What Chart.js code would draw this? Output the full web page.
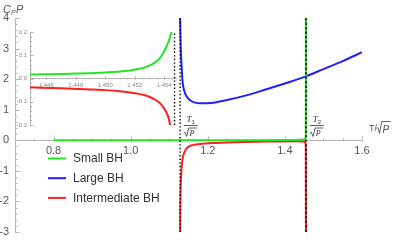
<!DOCTYPE html>
<html><head><meta charset="utf-8">
<script src="https://cdn.jsdelivr.net/npm/chart.js@4.4.0/dist/chart.umd.min.js"></script>
<style>
html,body{margin:0;padding:0;background:#fff;}
#wrap{position:relative;width:399px;height:240px;overflow:hidden;}
#main{position:absolute;left:0;top:0;}
#inset{position:absolute;left:16px;top:26px;}
</style></head><body>
<div id="wrap"><canvas id="main" width="399" height="240"></canvas><canvas id="inset" width="162" height="104"></canvas></div>
<script>
// ---------- data ----------
const T1 = 1.1283;
const T2 = 1.4547;

const xTicks = [0.8, 1.0, 1.2, 1.4, 1.6];
const yTicks = [-3, -2, -1, 0, 1, 2, 3, 4];

const smallX = [0.80, 1.00, 1.20, 1.35, 1.42, 1.45, 1.4530, 1.4540, 1.4544, 1.4546];
const smallY = [0.00, 0.00, 0.00, 0.003, 0.01, 0.026, 0.06, 0.11, 0.20, 4.0];

const largeX = [1.1283, 1.1300, 1.1322, 1.1340, 1.1364, 1.1400, 1.1452, 1.1550, 1.1650, 1.1800, 1.2000, 1.2500, 1.3000, 1.3500, 1.4000, 1.4547, 1.5000, 1.5500, 1.6000];
const largeY = [4.00, 3.00, 2.41, 2.00, 1.75, 1.58, 1.43, 1.30, 1.24, 1.21, 1.21, 1.32, 1.47, 1.66, 1.86, 2.09, 2.33, 2.59, 2.88];

const interX = [1.1284, 1.1288, 1.1296, 1.1310, 1.1330, 1.1356, 1.1400, 1.1446, 1.1550, 1.1800, 1.2200, 1.3000, 1.3700, 1.4300, 1.4500, 1.4538, 1.4543, 1.4546];
const interY = [-3.00, -2.20, -1.60, -1.10, -0.78, -0.54, -0.38, -0.27, -0.18, -0.12, -0.085, -0.055, -0.042, -0.035, -0.04, -0.10, -0.40, -3.00];

// inset
const insetXTicks = [1.446, 1.448, 1.450, 1.452, 1.454];
const insetYTicks = [-0.2, -0.1, 0.0, 0.1, 0.2];
const insetSmallX = [1.4449, 1.4460, 1.4470, 1.4480, 1.4490, 1.4500, 1.4510, 1.4520, 1.4527, 1.4532, 1.4536, 1.4539, 1.4541, 1.4543, 1.4545];
const insetSmallY = [0.017, 0.018, 0.019, 0.021, 0.023, 0.026, 0.030, 0.038, 0.048, 0.062, 0.080, 0.105, 0.130, 0.160, 0.200];
const insetInterX = [1.4449, 1.4470, 1.4490, 1.4500, 1.4510, 1.4520, 1.4527, 1.4532, 1.4536, 1.4539, 1.4541, 1.4543, 1.4544];
const insetInterY = [-0.038, -0.042, -0.047, -0.050, -0.055, -0.063, -0.072, -0.085, -0.100, -0.120, -0.140, -0.170, -0.200];

// ---------- styling ----------
const GREEN = '#22e622', BLUE = '#1f1fff', RED = '#ff1f1f';
const AX = '#b4b4b4', TXT = '#555';
const pts = (xs, ys) => xs.map((x, i) => ({x, y: ys[i]}));
const range = (a, b, s) => { const r = []; for (let v = a; v <= b + s * 1e-6; v += s) r.push(+v.toFixed(6)); return r; };

const axisDecor = {
  id: 'axisDecor',
  beforeDatasetsDraw(chart, args, o) {
    const {ctx, scales: {x, y}} = chart;
    ctx.save(); ctx.strokeStyle = o.color; ctx.lineWidth = 1;
    const y0 = Math.round(y.getPixelForValue(0)) + 0.5;
    const xl = chart.chartArea.left + 0.5;
    const draw = (vals, len, horiz) => vals.forEach(v => {
      ctx.beginPath();
      if (horiz) { const p = Math.round(x.getPixelForValue(v)) + 0.5; ctx.moveTo(p, y0); ctx.lineTo(p, y0 - len); }
      else { const p = Math.round(y.getPixelForValue(v)) + 0.5; ctx.moveTo(xl, p); ctx.lineTo(xl + len, p); }
      ctx.stroke();
    });
    draw(o.xMinor, o.minorLen, true); draw(o.xMajor, o.majorLen, true);
    draw(o.yMinor, o.minorLen, false); draw(o.yMajor, o.majorLen, false);
    ctx.restore();
  }
};

function radical(ctx, x, yTop, w, h) {
  ctx.beginPath();
  ctx.moveTo(x, yTop + h * 0.6);
  ctx.lineTo(x + 1.3, yTop + h * 0.5);
  ctx.lineTo(x + 3, yTop + h);
  ctx.lineTo(x + 5.2, yTop);
  ctx.lineTo(x + 5.2 + w, yTop);
  ctx.stroke();
}

function fraction(ctx, cx, sub) {
  ctx.fillStyle = '#333'; ctx.strokeStyle = '#333';
  ctx.textBaseline = 'alphabetic'; ctx.textAlign = 'left';
  ctx.font = 'italic 9px "Liberation Serif"';
  const tw = ctx.measureText('T').width;
  ctx.font = '6px "Liberation Sans"';
  const sw = ctx.measureText(sub).width;
  const x0 = cx - (tw + sw) / 2;
  ctx.font = 'italic 9px "Liberation Serif"';
  ctx.fillText('T', x0, 122);
  ctx.font = '6px "Liberation Sans"';
  ctx.fillText(sub, x0 + tw, 124);
  ctx.lineWidth = 0.8;
  ctx.beginPath(); ctx.moveTo(cx - 7, 125.5); ctx.lineTo(cx + 7, 125.5); ctx.stroke();
  radical(ctx, cx - 7, 128, 8, 8.5);
  ctx.font = 'italic 8px "Liberation Serif"';
  ctx.fillText('P', cx - 1.2, 136);
}

const labelsPlugin = {
  id: 'labelsPlugin',
  afterDraw(chart) {
    const {ctx, scales: {x}} = chart;
    ctx.save();
    // y title  C_P P
    ctx.fillStyle = TXT; ctx.textBaseline = 'alphabetic'; ctx.textAlign = 'left';
    ctx.font = 'italic 11px "Liberation Sans"';
    ctx.fillText('C', 3, 13);
    const cw = ctx.measureText('C').width;
    ctx.font = 'italic 7px "Liberation Sans"';
    ctx.fillText('P', 3 + cw, 15);
    const pw = ctx.measureText('P').width;
    ctx.font = 'italic 11px "Liberation Sans"';
    ctx.fillText('P', 3 + cw + pw + 0.5, 13);
    // x title  T/√P
    ctx.font = '9px "Liberation Sans"';
    ctx.fillText('T/', 369, 131);
    const tw = ctx.measureText('T/').width;
    ctx.strokeStyle = TXT; ctx.lineWidth = 0.9;
    radical(ctx, 369 + tw - 0.5, 121.5, 9, 12);
    ctx.font = 'italic 10px "Liberation Sans"';
    ctx.fillText('P', 369 + tw + 5.5, 132.5);
    // fractions at T1, T2
    fraction(ctx, x.getPixelForValue(T1) + 10.5, '1');
    fraction(ctx, x.getPixelForValue(T2) + 11, '2');
    // legend
    const items = chart.data.datasets.filter(d => d.label);
    items.forEach((d, i) => {
      const yy = 158.5 + i * 19.7;
      ctx.strokeStyle = d.borderColor; ctx.lineWidth = 2;
      ctx.beginPath(); ctx.moveTo(48, yy); ctx.lineTo(66, yy); ctx.stroke();
      ctx.fillStyle = '#333'; ctx.font = '12px "Liberation Sans"'; ctx.textBaseline = 'middle';
      ctx.fillText(d.label, 73, yy + 0.5);
    });
    ctx.restore();
  }
};

const vline = (xv, y0, y1, dash, w) => ({label: '', data: pts([xv, xv], [y0, y1]), borderColor: '#000', borderWidth: w, borderDash: dash, tension: 0, cubicInterpolationMode: 'default', order: 0});
const curve = (label, xs, ys, color) => ({label, data: pts(xs, ys), borderColor: color, borderWidth: 2, order: 1});
const gridOff = {display: false, drawTicks: false, tickLength: 0};

// ---------- main chart ----------
new Chart(document.getElementById('main'), {
  type: 'scatter',
  data: {datasets: [
    vline(T1, -3, 4, [1.4, 2.2], 1.4),
    vline(T2, -3, 4, [2.5, 2], 1.3),
    curve('Small BH', smallX, smallY, GREEN),
    curve('Large BH', largeX, largeY, BLUE),
    curve('Intermediate BH', interX, interY, RED)
  ]},
  options: {
    responsive: false, animation: false, events: [],
    layout: {padding: {left: 0, right: 37, top: 18, bottom: 8}},
    datasets: {scatter: {showLine: true}},
    elements: {point: {radius: 0, hoverRadius: 0}, line: {cubicInterpolationMode: 'monotone', fill: false}},
    plugins: {
      legend: {display: false}, tooltip: {enabled: false},
      axisDecor: {color: AX, majorLen: 4, minorLen: 2,
        xMajor: xTicks, xMinor: range(0.7, 1.6, 0.05),
        yMajor: yTicks, yMinor: range(-3, 4, 0.2)}
    },
    scales: {
      x: {type: 'linear', min: 0.7, max: 1.6, position: {y: 0},
        grid: gridOff, border: {display: true, color: AX, width: 1},
        ticks: {color: TXT, font: {family: 'Liberation Sans', size: 11}, padding: 4, autoSkip: false, maxRotation: 0, callback: v => v.toFixed(1)},
        afterBuildTicks: s => { s.ticks = xTicks.map(v => ({value: v})); },
        afterFit: s => { s.height = 0; s.paddingLeft = 0; s.paddingRight = 0; }},
      y: {type: 'linear', min: -3, max: 4, position: 'left',
        grid: gridOff, border: {display: true, color: AX, width: 1},
        ticks: {color: TXT, font: {family: 'Liberation Sans', size: 11}, padding: 6, autoSkip: false, callback: v => String(v)},
        afterBuildTicks: s => { s.ticks = yTicks.map(v => ({value: v})); },
        afterFit: s => { s.width = 15; s.paddingTop = 0; s.paddingBottom = 0; }}
    }
  },
  plugins: [axisDecor, labelsPlugin]
});

// ---------- inset chart ----------
new Chart(document.getElementById('inset'), {
  type: 'scatter',
  data: {datasets: [
    vline(T2, -0.2, 0.2, [1.4, 2.2], 1.4),
    curve('Small BH', insetSmallX, insetSmallY, GREEN),
    curve('Intermediate BH', insetInterX, insetInterY, RED)
  ]},
  options: {
    responsive: false, animation: false, events: [],
    layout: {padding: {left: 0, right: 2, top: 6, bottom: 5}},
    datasets: {scatter: {showLine: true}},
    elements: {point: {radius: 0, hoverRadius: 0}, line: {cubicInterpolationMode: 'monotone', fill: false}},
    plugins: {
      legend: {display: false}, tooltip: {enabled: false},
      axisDecor: {color: AX, majorLen: 3, minorLen: 1.5,
        xMajor: insetXTicks, xMinor: range(1.4450, 1.4545, 0.0005),
        yMajor: insetYTicks, yMinor: range(-0.2, 0.2, 0.02)}
    },
    scales: {
      x: {type: 'linear', min: 1.4449, max: 1.4548, position: {y: 0},
        grid: gridOff, border: {display: true, color: AX, width: 1},
        ticks: {color: '#888', font: {family: 'Liberation Sans', size: 6}, padding: 3, autoSkip: false, maxRotation: 0, callback: v => v.toFixed(3)},
        afterBuildTicks: s => { s.ticks = insetXTicks.map(v => ({value: v})); },
        afterFit: s => { s.height = 0; s.paddingLeft = 0; s.paddingRight = 0; }},
      y: {type: 'linear', min: -0.2, max: 0.2, position: 'left',
        grid: gridOff, border: {display: true, color: AX, width: 1},
        ticks: {color: '#888', font: {family: 'Liberation Sans', size: 6}, padding: 3, autoSkip: false, callback: v => v.toFixed(1)},
        afterBuildTicks: s => { s.ticks = insetYTicks.map(v => ({value: v})); },
        afterFit: s => { s.width = 14; s.paddingTop = 0; s.paddingBottom = 0; }}
    }
  },
  plugins: [axisDecor]
});
</script>
</body></html>
